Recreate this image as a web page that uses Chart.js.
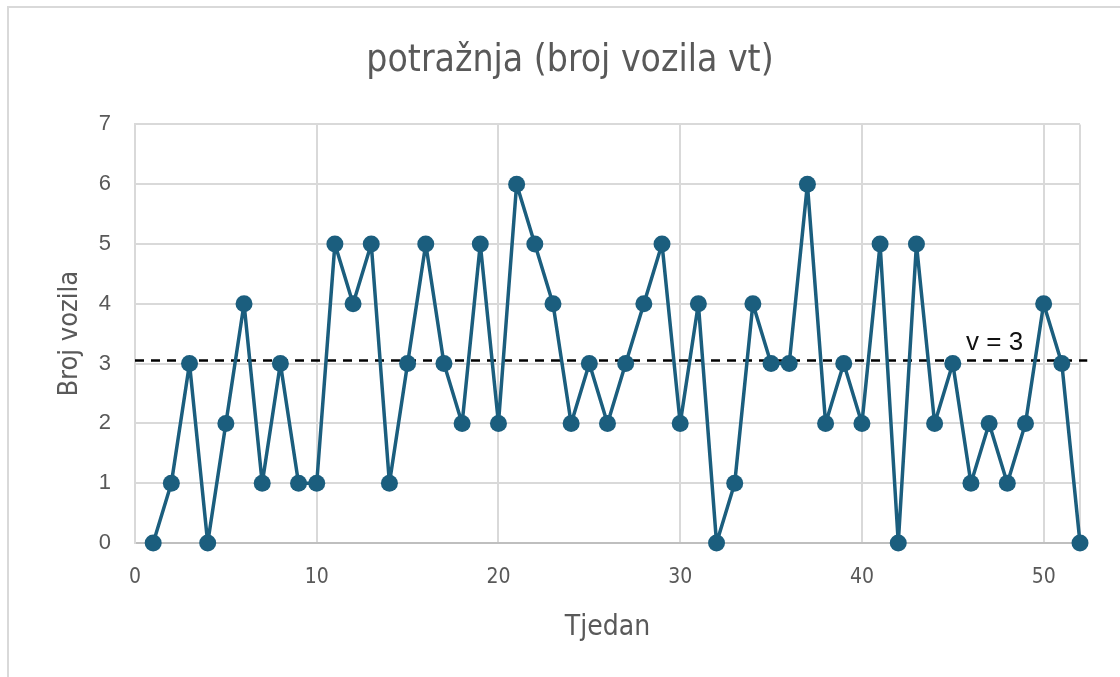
<!DOCTYPE html>
<html>
<head>
<meta charset="utf-8">
<script src="https://cdn.jsdelivr.net/npm/chart.js@4"></script>
<style>
  html, body { margin: 0; padding: 0; background: #fff; overflow: hidden; }
  #frame { position: absolute; left: 7px; top: 6px; width: 1200px; height: 800px; border: 2px solid #d9d9d9; }
  #wrap { position: absolute; left: 0; top: 0; width: 1120px; height: 677px; }
</style>
</head>
<body>
<div id="frame"></div>
<div id="wrap"><canvas id="chart" width="1120" height="677"></canvas></div>
<script>
'use strict';

const weeks = [1, 2, 3, 4, 5, 6, 7, 8, 9, 10, 11, 12, 13, 14, 15, 16, 17, 18, 19, 20,
  21, 22, 23, 24, 25, 26, 27, 28, 29, 30, 31, 32, 33, 34, 35, 36, 37, 38, 39, 40,
  41, 42, 43, 44, 45, 46, 47, 48, 49, 50, 51, 52];
const demand = [0, 1, 3, 0, 2, 4, 1, 3, 1, 1, 5, 4, 5, 1, 3, 5, 3, 2, 5, 2,
  6, 5, 4, 2, 3, 2, 3, 4, 5, 2, 4, 0, 1, 4, 3, 3, 6, 2, 3, 2,
  5, 0, 5, 2, 3, 1, 2, 1, 2, 4, 3, 0];
const levelX = [0, 52.4];
const levelValue = 3.05;
const levelLabel = 'v = 3';
const xTicks = [0, 10, 20, 30, 40, 50];

const lineColor = '#1b5e7e';
const textColor = '#595959';
const gridColor = '#d9d9d9';
const narrow = "'DejaVu Sans Condensed', 'Liberation Sans Narrow', sans-serif";
const arial = '"Liberation Sans", Arial, sans-serif';

const levelText = {
  id: 'levelText',
  afterDatasetsDraw: (chart) => {
    const { ctx, scales } = chart;
    ctx.save();
    ctx.font = '26px ' + arial;
    ctx.fillStyle = '#111';
    ctx.textAlign = 'center';
    ctx.textBaseline = 'middle';
    ctx.fillText(levelLabel, scales.x.getPixelForValue(47.3), scales.y.getPixelForValue(3.34));
    ctx.restore();
  },
};

new Chart(document.getElementById('chart'), {
  type: 'line',
  data: {
    datasets: [
      {
        label: 'potražnja',
        data: weeks.map((w, i) => ({ x: w, y: demand[i] })),
        borderColor: lineColor,
        backgroundColor: lineColor,
        borderWidth: 3.5,
        borderJoinStyle: 'round',
        pointRadius: 8.5,
        pointHoverRadius: 8.5,
        pointBackgroundColor: lineColor,
        pointBorderWidth: 0,
        tension: 0,
        clip: 12,
        order: 1,
      },
      {
        label: 'v',
        data: levelX.map(x => ({ x, y: levelValue })),
        borderColor: '#000',
        borderWidth: 2.5,
        borderDash: [9, 7],
        pointRadius: 0,
        clip: 12,
        order: 2,
      },
    ],
  },
  plugins: [levelText],
  options: {
    responsive: false,
    animation: false,
    layout: { padding: { left: 60, right: 40, top: 0, bottom: 0 } },
    plugins: {
      legend: { display: false },
      tooltip: { enabled: false },
      title: {
        display: true,
        text: 'potražnja (broj vozila vt)',
        color: textColor,
        font: { family: narrow, size: 37, weight: 'normal' },
        padding: { top: 39, bottom: 41 },
      },
    },
    scales: {
      x: {
        type: 'linear',
        min: 0,
        max: 52,
        afterBuildTicks: (scale) => {
          scale.ticks = xTicks.concat([52]).map(v => ({ value: v }));
        },
        ticks: {
          autoSkip: false,
          maxRotation: 0,
          padding: 22,
          color: textColor,
          font: { family: narrow, size: 21 },
          callback: v => (xTicks.includes(v) ? String(v) : ''),
        },
        grid: { color: gridColor, lineWidth: 2, drawTicks: false },
        border: { color: '#bfbfbf', width: 2 },
        title: {
          display: true,
          text: 'Tjedan',
          color: textColor,
          font: { family: narrow, size: 28 },
          padding: { top: 0, bottom: 32 },
        },
        afterFit: (scale) => { scale.height = 134; },
      },
      y: {
        min: 0,
        max: 7,
        ticks: {
          stepSize: 1,
          padding: 24,
          color: textColor,
          font: { family: arial, size: 22 },
        },
        grid: { color: gridColor, lineWidth: 2, drawTicks: false },
        border: { color: gridColor, width: 2 },
        title: {
          display: true,
          text: 'Broj vozila',
          color: textColor,
          font: { family: narrow, size: 27 },
          padding: { top: -6, bottom: 0 },
        },
        afterFit: (scale) => { scale.width = 75; },
      },
    },
  },
});
</script>
</body>
</html>
